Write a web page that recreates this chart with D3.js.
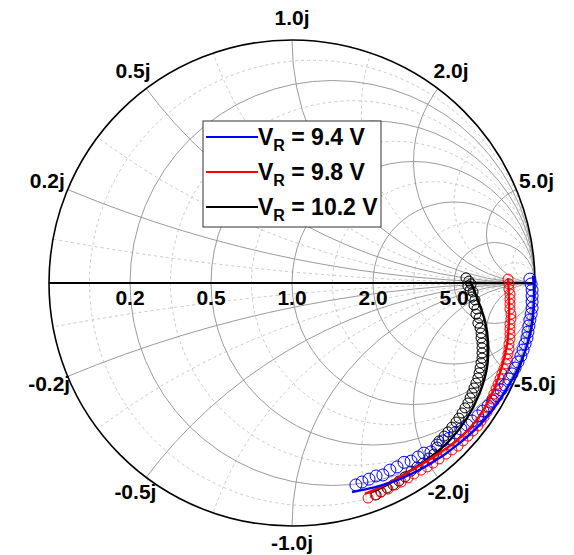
<!DOCTYPE html>
<html>
<head>
<meta charset="UTF-8">
<title>Smith chart</title>
<script src="https://cdn.jsdelivr.net/npm/d3@7"></script>
<style>
  body { margin: 0; background: #fff; }
  text { font-family: "Liberation Sans", Arial, sans-serif; font-weight: bold; fill: #000; }
</style>
</head>
<body>
<script>
var width = 574, height = 555,
    cx = 292, cy = 283, R = 243;

// grid values (normalized resistance / reactance)
var majorR = [0.2, 0.5, 1.0, 2.0, 5.0];
var minorR = [1 / 11, 1 / 3, 5 / 7, 1.4, 3, 11];
var majorX = [0.2, 0.5, 1.0, 2.0, 5.0, -0.2, -0.5, -1.0, -2.0, -5.0];
var minorX = [1 / 11, 1 / 3, 5 / 7, 1.4, 3, 11, -1 / 11, -1 / 3, -5 / 7, -1.4, -3, -11];

// legend
var seriesNames = ['9.4 V', '9.8 V', '10.2 V'];
var seriesColors = ['#0000ff', '#ff0000', '#000000'];

var blueRe = [0.979, 0.984, 0.988, 0.988, 0.988, 0.988, 0.984, 0.979, 0.975, 0.971, 0.967, 0.959, 0.951, 0.942, 0.930,
  0.918, 0.905, 0.893, 0.877, 0.860, 0.844, 0.827, 0.807, 0.786, 0.765, 0.741, 0.720, 0.695, 0.671, 0.646,
  0.621, 0.597, 0.572, 0.543, 0.519, 0.490, 0.461, 0.432, 0.403, 0.374, 0.346, 0.317, 0.288, 0.263];
var blueIm = [0.016, -0.004, -0.029, -0.053, -0.078, -0.103, -0.128, -0.152, -0.177, -0.202, -0.226, -0.251, -0.276, -0.300, -0.325,
  -0.350, -0.374, -0.395, -0.420, -0.440, -0.465, -0.486, -0.506, -0.527, -0.547, -0.568, -0.584, -0.601, -0.617, -0.640,
  -0.650, -0.667, -0.695, -0.700, -0.716, -0.733, -0.738, -0.757, -0.770, -0.790, -0.794, -0.807, -0.819, -0.831];
var blueFitRe = [0.992, 0.996, 0.984, 0.942, 0.881, 0.798, 0.691, 0.568, 0.444, 0.342, 0.247];
var blueFitIm = [0.030, -0.070, -0.193, -0.325, -0.440, -0.556, -0.658, -0.745, -0.807, -0.840, -0.860];

var redRe = [0.889, 0.893, 0.893, 0.897, 0.897, 0.897, 0.897, 0.901, 0.901, 0.897, 0.897, 0.897, 0.897, 0.893, 0.893,
  0.889, 0.885, 0.881, 0.872, 0.864, 0.856, 0.848, 0.840, 0.831, 0.823, 0.819, 0.815, 0.802, 0.790, 0.778,
  0.765, 0.745, 0.724, 0.704, 0.683, 0.658, 0.634, 0.605, 0.580, 0.556, 0.531, 0.502, 0.477, 0.449, 0.424,
  0.395, 0.366, 0.342, 0.313];
var redIm = [0.016, -0.004, -0.025, -0.045, -0.066, -0.086, -0.107, -0.128, -0.148, -0.169, -0.189, -0.210, -0.230, -0.251, -0.272,
  -0.292, -0.313, -0.333, -0.354, -0.374, -0.395, -0.416, -0.436, -0.457, -0.477, -0.494, -0.510, -0.531, -0.551, -0.568,
  -0.588, -0.609, -0.630, -0.650, -0.671, -0.687, -0.704, -0.724, -0.741, -0.757, -0.770, -0.786, -0.802, -0.819, -0.831,
  -0.848, -0.860, -0.872, -0.885];
var redFitRe = [0.889, 0.893, 0.893, 0.885, 0.860, 0.815, 0.753, 0.671, 0.568, 0.465, 0.383, 0.300];
var redFitIm = [0.020, -0.070, -0.152, -0.255, -0.358, -0.473, -0.572, -0.654, -0.724, -0.786, -0.831, -0.868];

var blackRe = [0.716, 0.728, 0.724, 0.737, 0.733, 0.745, 0.741, 0.753, 0.749, 0.761, 0.757, 0.770, 0.765, 0.774, 0.778,
  0.778, 0.782, 0.782, 0.782, 0.782, 0.778, 0.774, 0.770, 0.765, 0.757, 0.749, 0.741, 0.733, 0.724, 0.712,
  0.700, 0.687, 0.675, 0.658, 0.642, 0.626, 0.605, 0.597, 0.584, 0.564, 0.539, 0.514, 0.490, 0.465, 0.440,
  0.416, 0.391, 0.366, 0.346];
var blackIm = [0.021, 0.008, -0.012, -0.004, -0.029, -0.037, -0.058, -0.070, -0.091, -0.107, -0.128, -0.144, -0.165, -0.185, -0.206,
  -0.226, -0.247, -0.267, -0.288, -0.309, -0.329, -0.350, -0.370, -0.391, -0.412, -0.432, -0.453, -0.473, -0.494, -0.514,
  -0.535, -0.556, -0.572, -0.593, -0.613, -0.630, -0.650, -0.675, -0.704, -0.720, -0.741, -0.757, -0.774, -0.798, -0.815,
  -0.831, -0.844, -0.860, -0.872];
var blackFitRe = [0.733, 0.765, 0.795, 0.807, 0.802, 0.772, 0.720, 0.650, 0.560, 0.465, 0.383, 0.329];
var blackFitIm = [0.008, -0.070, -0.160, -0.247, -0.350, -0.453, -0.556, -0.646, -0.724, -0.786, -0.835, -0.860];

var x = d3.scaleLinear().domain([-1, 1]).range([cx - R, cx + R]);
var y = d3.scaleLinear().domain([-1, 1]).range([cy + R, cy - R]);
var k = R; // pixels per unit of reflection coefficient

var svg = d3.select('body').append('svg')
  .attr('width', width)
  .attr('height', height)
  .style('background', '#fff');

svg.append('defs').append('clipPath')
  .attr('id', 'clip')
  .append('circle')
    .attr('cx', x(0))
    .attr('cy', y(0))
    .attr('r', k);

var grid = svg.append('g').attr('clip-path', 'url(#clip)');

function drawR(list, cls) {
  grid.selectAll('circle.' + cls + 'r')
    .data(list)
    .enter()
    .append('circle')
    .attr('class', cls + 'r')
    .attr('cx', function(r) { return x(r / (1 + r)); })
    .attr('cy', y(0))
    .attr('r', function(r) { return k / (1 + r); });
}
function drawX(list, cls) {
  grid.selectAll('circle.' + cls + 'x')
    .data(list)
    .enter()
    .append('circle')
    .attr('class', cls + 'x')
    .attr('cx', x(1))
    .attr('cy', function(v) { return y(1 / v); })
    .attr('r', function(v) { return k / Math.abs(v); });
}

drawR(minorR, 'minor');
drawX(minorX, 'minor');
drawR(majorR, 'major');
drawX(majorX, 'major');

grid.selectAll('circle.minorr, circle.minorx')
  .attr('fill', 'none')
  .attr('stroke', '#c8c8c8')
  .attr('stroke-width', 1)
  .attr('stroke-dasharray', '3,3');
grid.selectAll('circle.majorr, circle.majorx')
  .attr('fill', 'none')
  .attr('stroke', '#9a9a9a')
  .attr('stroke-width', 1);

// real axis + outer circle
svg.append('line')
  .attr('x1', x(-1)).attr('x2', x(1))
  .attr('y1', y(0)).attr('y2', y(0))
  .attr('stroke', '#000')
  .attr('stroke-width', 2);
svg.append('circle')
  .attr('cx', x(0)).attr('cy', y(0)).attr('r', k)
  .attr('fill', 'none')
  .attr('stroke', '#000')
  .attr('stroke-width', 1.6);

var fmt = d3.format('.1f');
function label(v) { return fmt(v).replace('\u2212', '-'); }

// resistance labels on the real axis
svg.selectAll('text.rlab')
  .data(majorR)
  .enter()
  .append('text')
  .attr('class', 'rlab')
  .attr('x', function(r) { return x((r - 1) / (r + 1)); })
  .attr('y', y(0) + 22)
  .attr('text-anchor', 'middle')
  .style('font-size', '21px')
  .text(label);

// reactance labels round the rim
function gammaOfX(v) {
  return [(v * v - 1) / (v * v + 1), 2 * v / (v * v + 1)];
}
function rim(v) {
  var g = gammaOfX(v);
  return (R + 22 - 5 * Math.max(0, -g[1])) / R;
}
svg.selectAll('text.xlab')
  .data(majorX)
  .enter()
  .append('text')
  .attr('class', 'xlab')
  .attr('x', function(v) { return x(gammaOfX(v)[0] * rim(v)); })
  .attr('y', function(v) { return y(gammaOfX(v)[1] * rim(v)); })
  .attr('dy', '0.34em')
  .attr('text-anchor', 'middle')
  .style('font-size', '21px')
  .text(function(v) { return label(v) + 'j'; });

// data
var series = [
  { re: blackRe, im: blackIm, fre: blackFitRe, fim: blackFitIm, color: '#000000', r: 5 },
  { re: redRe, im: redIm, fre: redFitRe, fim: redFitIm, color: '#ff0000', r: 5 },
  { re: blueRe, im: blueIm, fre: blueFitRe, fim: blueFitIm, color: '#0000ff', r: 6 }
];

var line = d3.line()
  .x(function(d) { return x(d[0]); })
  .y(function(d) { return y(d[1]); })
  .curve(d3.curveCatmullRom);

series.forEach(function(s) {
  svg.append('g')
    .selectAll('circle')
    .data(d3.zip(s.re, s.im))
    .enter()
    .append('circle')
    .attr('cx', function(d) { return x(d[0]); })
    .attr('cy', function(d) { return y(d[1]); })
    .attr('r', s.r)
    .attr('fill', 'none')
    .attr('stroke', s.color)
    .attr('stroke-width', 1);
});

series.forEach(function(s) {
  svg.append('path')
    .datum(d3.zip(s.fre, s.fim))
    .attr('d', line)
    .attr('fill', 'none')
    .attr('stroke', s.color)
    .attr('stroke-width', 2.4);
});

// legend
var legend = svg.append('g').attr('transform', 'translate(203,121)');
legend.append('rect')
  .attr('width', 178)
  .attr('height', 106)
  .attr('fill', '#fff')
  .attr('stroke', '#333')
  .attr('stroke-width', 1);

var rows = legend.selectAll('g.row')
  .data(seriesNames)
  .enter()
  .append('g')
  .attr('class', 'row')
  .attr('transform', function(d, i) { return 'translate(0,' + (16 + i * 35) + ')'; });

rows.append('line')
  .attr('x1', 3).attr('x2', 55)
  .attr('stroke', function(d, i) { return seriesColors[i]; })
  .attr('stroke-width', 2);

var t = rows.append('text')
  .attr('x', 55)
  .attr('y', 8)
  .style('font-size', '23px');
t.append('tspan').text('V');
t.append('tspan').attr('dy', 6).style('font-size', '16px').text('R');
t.append('tspan').attr('dy', -6).text(function(d) { return ' = ' + d; });
</script>
</body>
</html>
